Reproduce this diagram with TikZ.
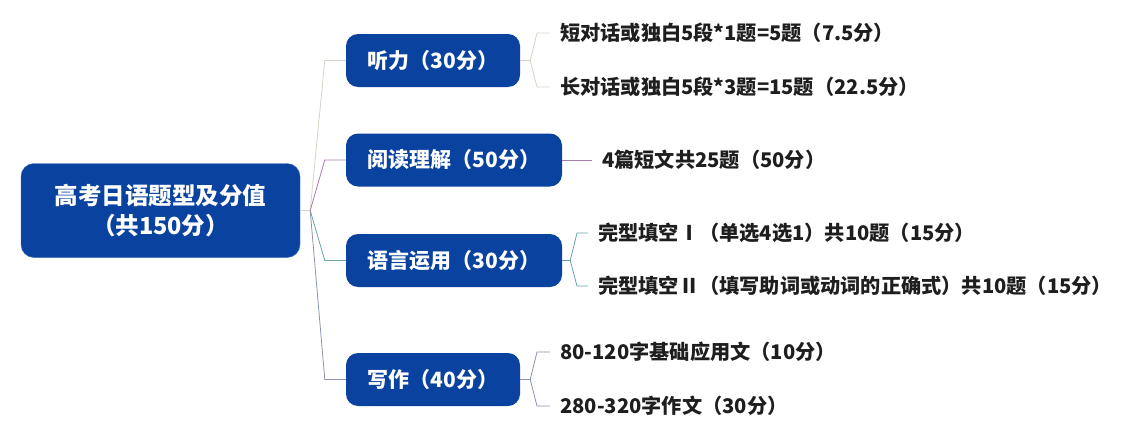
\documentclass[tikz,border=0pt]{standalone}
\usepackage{fontspec}
\setmainfont{Noto Sans CJK SC}
\usetikzlibrary{positioning,calc}

\definecolor{boxblue}{RGB}{10,66,160}
\definecolor{tingcol}{RGB}{214,210,198}
\definecolor{yuecol}{RGB}{168,122,170}
\definecolor{yucol}{RGB}{104,164,170}
\definecolor{xiecol}{RGB}{140,146,178}
\definecolor{leaftext}{RGB}{30,30,30}

\tikzset{
    rootbox/.style={fill=boxblue, draw=boxblue!80!white, rounded corners=13pt, minimum width=279pt, minimum height=94pt,
        inner sep=0pt, align=center, text=white, font=\bfseries\fontsize{23.5}{30}\selectfont},
    branchbox/.style={fill=boxblue, rounded corners=12pt, minimum height=53pt, inner sep=0pt,
        text=white, font=\bfseries\fontsize{21}{25}\selectfont},
    leaf/.style={anchor=west, inner xsep=10pt, inner ysep=0pt, text height=17pt, text depth=2pt,
        text=leaftext, font=\bfseries\fontsize{20.2}{24}\selectfont},
    link/.style={line width=0.8pt}
}

\begin{document}
\begin{tikzpicture}[x=1pt,y=-1pt]
    \useasboundingbox (0,0) rectangle (1125,439);

    % Root
    \node [rootbox] (root) at (160.5,210.5) {高考日语题型及分值\\（共150分）};

    % Branches
    \node [branchbox, minimum width=174pt] (ting) at (433,60.5) {听力（30分）};
    \node [branchbox, minimum width=216pt] (yue) at (454,160) {阅读理解（50分）};
    \node [branchbox, minimum width=216pt] (yu) at (454,260.5) {语言运用（30分）};
    \node [branchbox, minimum width=174pt] (xie) at (433,379.5) {写作（40分）};

    % Leaves
    \node [leaf] (t1) at (550,33) {短对话或独白5段*1题=5题（7.5分）};
    \node [leaf] (t2) at (550,87) {长对话或独白5段*3题=15题（22.5分）};
    \node [leaf] (r1) at (592,160) {4篇短文共25题（50分）};
    \node [leaf] (u1) at (588,233) {完型填空Ⅰ（单选4选1）共10题（15分）};
    \node [leaf] (u2) at (588,286) {完型填空Ⅱ（填写助词或动词的正确式）共10题（15分）};
    \node [leaf] (w1) at (550,352) {80-120字基础应用文（10分）};
    \node [leaf] (w2) at (550,406) {280-320字作文（30分）};

    % Root to branches
    \coordinate (rf) at ([xshift=10pt]root.east);
    \draw [link, tingcol] (root.east) -- (rf);
    \draw [link, tingcol] (rf) -- ([xshift=-21pt]ting.west) -- (ting.west);
    \draw [link, yuecol] (rf) -- ([xshift=-21pt]yue.west) -- (yue.west);
    \draw [link, yucol] (rf) -- ([xshift=-21pt]yu.west) -- (yu.west);
    \draw [link, xiecol] (rf) -- ([xshift=-21pt]xie.west) -- (xie.west);

    % Branches to leaves
    \coordinate (tf) at ([xshift=10pt]ting.east);
    \draw [link, tingcol] (ting.east) -- (tf) -- ([xshift=-13pt]t1.west) -- (t1.west);
    \draw [link, tingcol] (tf) -- ([xshift=-13pt]t2.west) -- (t2.west);

    \draw [link, yuecol] (yue.east) -- (r1.west);

    \coordinate (uf) at ([xshift=8pt]yu.east);
    \draw [link, yucol] (yu.east) -- (uf) -- ([xshift=-11pt]u1.west) -- (u1.west);
    \draw [link, yucol] (uf) -- ([xshift=-11pt]u2.west) -- (u2.west);

    \coordinate (wf) at ([xshift=10pt]xie.east);
    \draw [link, xiecol] (xie.east) -- (wf) -- ([xshift=-13pt]w1.west) -- (w1.west);
    \draw [link, xiecol] (wf) -- ([xshift=-13pt]w2.west) -- (w2.west);
\end{tikzpicture}
\end{document}
